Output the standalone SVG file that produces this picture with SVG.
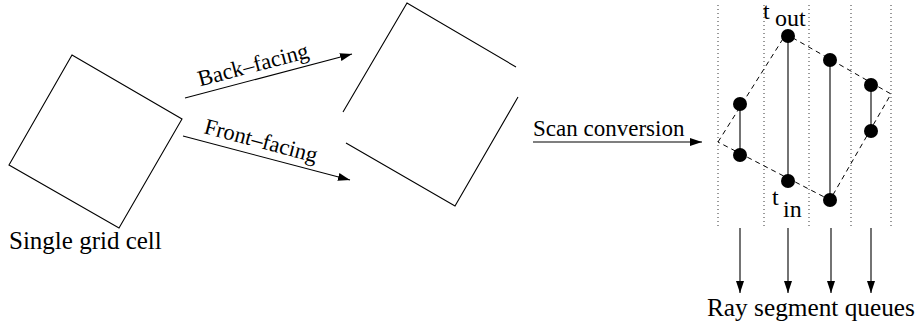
<svg xmlns="http://www.w3.org/2000/svg" width="915" height="323" viewBox="0 0 915 323">
  <style>
    .ln { stroke: #000; stroke-width: 1.1; fill: none; }
    .arr { stroke: #000; stroke-width: 1.1; fill: none; marker-end: url(#ah); }
    .dot { stroke: #000; stroke-width: 0.8; fill: none; stroke-dasharray: 1 3; }
    .dash { stroke: #000; stroke-width: 1; fill: none; stroke-dasharray: 5 4; }
    .pt { fill: #000; }
  </style>
  <defs>
    <marker id="ah" markerUnits="userSpaceOnUse" markerWidth="12" markerHeight="8" refX="12" refY="4" orient="auto">
      <path d="M0,0 L12,4 L0,8 z" fill="#000"/>
    </marker>
  </defs>

  <g font-family="'Liberation Serif', 'Times New Roman', serif" font-size="24" fill="#000">
    <!-- single grid cell -->
    <g id="cell">
      <polygon class="ln" points="72,55 182,119 119,228 9,165"/>
      <text x="9" y="249" font-size="25">Single grid cell</text>
    </g>

    <!-- split cell: back-facing and front-facing faces -->
    <g id="split-cell">
      <polyline class="ln" points="343,112 407,3 516,67"/>
      <polyline class="ln" points="518,97 455,206 346,143"/>
    </g>

    <!-- scan-converted cell with ray segments -->
    <g id="scan-grid">
      <line class="dot" x1="718" y1="5" x2="718" y2="228"/>
      <line class="dot" x1="764" y1="5" x2="764" y2="228"/>
      <line class="dot" x1="809" y1="5" x2="809" y2="228"/>
      <line class="dot" x1="851" y1="5" x2="851" y2="228"/>
      <line class="dot" x1="891" y1="5" x2="891" y2="228"/>
      <polygon class="dash" points="718,142 786,34 891,94 830,200"/>
    </g>

    <g id="segments">
      <line class="ln" x1="740" y1="104" x2="740" y2="155"/>
      <line class="ln" x1="788" y1="36" x2="788" y2="181"/>
      <line class="ln" x1="830" y1="60" x2="830" y2="200"/>
      <line class="ln" x1="871" y1="85" x2="871" y2="131"/>
      <circle class="pt" cx="740" cy="104" r="7"/>
      <circle class="pt" cx="740" cy="155" r="7"/>
      <circle class="pt" cx="788" cy="36" r="7"/>
      <circle class="pt" cx="788" cy="181" r="7"/>
      <circle class="pt" cx="830" cy="60" r="7"/>
      <circle class="pt" cx="830" cy="200" r="7"/>
      <circle class="pt" cx="871" cy="85" r="7"/>
      <circle class="pt" cx="871" cy="131" r="7"/>
      <text x="763" y="19">t</text>
      <text x="775" y="26">out</text>
      <text x="772" y="205">t</text>
      <text x="783" y="217">in</text>
    </g>

    <g id="queues">
      <text x="707" y="316" font-size="25.3">Ray segment queues</text>
    </g>

    <!-- connectors -->
    <g id="connectors">
      <line class="arr" x1="185" y1="98" x2="352" y2="54"/>
      <text transform="translate(200,86.5) rotate(-14.8)" font-size="22.5">Back–facing</text>
      <line class="arr" x1="183" y1="136" x2="350" y2="180"/>
      <text transform="translate(203,133) rotate(14.8)" font-size="22.5">Front–facing</text>
      <line class="arr" x1="533" y1="142" x2="702" y2="142"/>
      <text x="533" y="136" font-size="23">Scan conversion</text>
      <line class="arr" x1="740" y1="228" x2="740" y2="293"/>
      <line class="arr" x1="788" y1="228" x2="788" y2="293"/>
      <line class="arr" x1="831" y1="228" x2="831" y2="293"/>
      <line class="arr" x1="871" y1="228" x2="871" y2="293"/>
    </g>
  </g>
</svg>
